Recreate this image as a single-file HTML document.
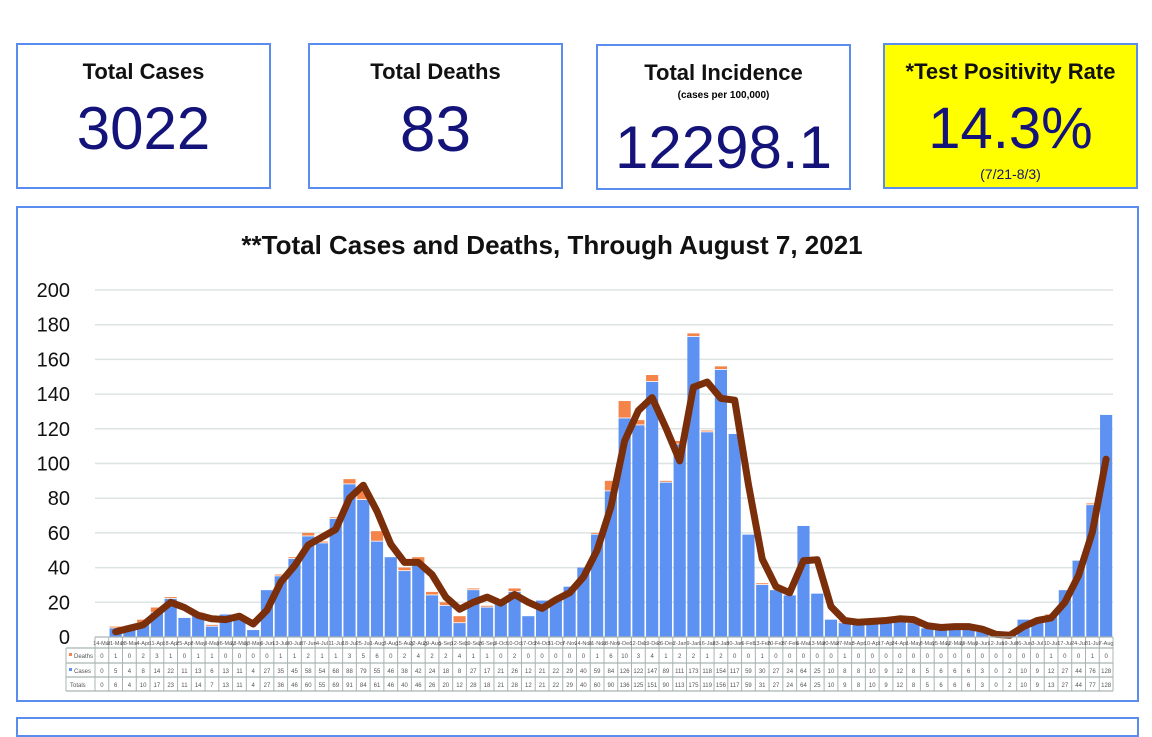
<!DOCTYPE html>
<html><head><meta charset="utf-8"><style>
body{margin:0;width:1152px;height:720px;background:#fff;position:relative;overflow:hidden;font-family:"Liberation Sans",sans-serif}
.box{position:absolute;border:2px solid #5b8def;box-sizing:border-box;text-align:center}
.t{position:absolute;left:0;right:0;font-weight:bold;font-size:22px;color:#111}
.n{position:absolute;left:0;right:0;font-size:64px;color:#13137a;line-height:1}
</style></head><body>
<div class="box" style="left:16px;top:43px;width:255px;height:146px"><div class="t" style="top:14px">Total Cases</div><div class="n" style="top:54px;font-size:60px">3022</div></div>
<div class="box" style="left:308px;top:43px;width:255px;height:146px"><div class="t" style="top:14px">Total Deaths</div><div class="n" style="top:52px">83</div></div>
<div class="box" style="left:596px;top:44px;width:255px;height:146px"><div class="t" style="top:14px">Total Incidence</div><div style="position:absolute;left:0;right:0;top:44px;font-size:10px;font-weight:bold">(cases per 100,000)</div><div class="n" style="top:72px;font-size:60px">12298.1</div></div>
<div class="box" style="left:883px;top:43px;width:255px;height:146px;background:#ffff00"><div class="t" style="top:14px">*Test Positivity Rate</div><div class="n" style="top:55px;font-size:58px">14.3%</div><div style="position:absolute;left:0;right:0;top:121px;font-size:14px;color:#13137a">(7/21-8/3)</div></div>
<div class="box" style="left:16px;top:206px;width:1123px;height:496px"></div>
<div class="box" style="left:16px;top:717px;width:1123px;height:20px"></div>
<svg id="s" width="1152" height="720" style="position:absolute;left:0;top:0"></svg>
<script>
var cases=[0,5,4,8,14,22,11,13,6,13,11,4,27,35,45,58,54,68,88,79,55,46,38,42,24,18,8,27,17,21,26,12,21,22,29,40,59,84,126,122,147,89,111,173,118,154,117,59,30,27,24,64,25,10,8,8,10,9,12,8,5,6,6,6,3,0,2,10,9,12,27,44,76,128];
var tot=[0,6,4,10,17,23,11,14,7,13,11,4,27,36,46,60,55,69,91,84,61,46,40,46,26,20,12,28,18,21,28,12,21,22,29,40,60,90,136,125,151,90,113,175,119,156,117,59,31,27,24,64,25,10,9,8,10,9,12,8,5,6,6,6,3,0,2,10,9,13,27,44,77,128];
var N=74,x0=95,cw=(1113-95)/N,y0=637,k=(637-290)/200;
var F='font-family=\'"Liberation Sans",sans-serif\'';
var h='<text x="552" y="254" font-size="26" font-weight="bold" '+F+' fill="#111" text-anchor="middle">**Total Cases and Deaths, Through August 7, 2021</text>';
for(var v=0;v<=200;v+=20){var y=y0-v*k;if(v>0)h+='<line x1="95" x2="1113" y1="'+y+'" y2="'+y+'" stroke="#dde3e3" stroke-width="1.5"/>';h+='<text x="70" y="'+(y+7)+'" font-size="20" text-anchor="end" '+F+' fill="#111">'+v+'</text>';}
var d0=new Date(2020,2,14),mo=['Jan','Feb','Mar','Apr','May','Jun','Jul','Aug','Sep','Oct','Nov','Dec'];
var pts=[];
for(var i=0;i<N;i++){var x=x0+i*cw;var c=cases[i],t=tot[i];
 h+='<rect x="'+(x+0.8)+'" y="'+(y0-c*k)+'" width="'+(cw-1.6)+'" height="'+(c*k)+'" fill="#5e92f2"/>';
 if(t>c)h+='<rect x="'+(x+0.8)+'" y="'+(y0-t*k)+'" width="'+(cw-1.6)+'" height="'+((t-c)*k-0.8)+'" fill="#f4844a"/>';
 if(i>0)pts.push((x+cw/2).toFixed(1)+','+(y0-(tot[i]+tot[i-1])/2*k).toFixed(1));
}
h+='<polyline points="'+pts.join(' ')+'" fill="none" stroke="#7a2e0a" stroke-width="7" stroke-linejoin="round" stroke-linecap="round"/>';
var rows=[637,648,663,677,691];
h+='<rect x="66" y="648" width="1047" height="43" fill="#fff"/>';
for(var r=0;r<5;r++){h+='<line x1="'+(r==0?95:66)+'" x2="1113" y1="'+rows[r]+'" y2="'+rows[r]+'" stroke="#a9b3b3" stroke-width="1.2"/>';}
h+='<line x1="66" x2="66" y1="648" y2="691" stroke="#a9b3b3"/>';
for(var i=0;i<=N;i++){var x=x0+i*cw;h+='<line x1="'+x+'" x2="'+x+'" y1="637" y2="691" stroke="#a9b3b3" stroke-width="1"/>';}
var lab=['Deaths','Cases','Totals'];
var lc=['#f4844a','#5b8ff0',null];
for(var r=0;r<3;r++){var y=rows[r+1]+10;if(lc[r])h+='<rect x="69" y="'+(y-5)+'" width="3" height="3" fill="'+lc[r]+'"/>';h+='<text x="'+(r<2?74:70)+'" y="'+y+'" font-size="6" fill="#555" '+F+'>'+lab[r]+'</text>';}
for(var i=0;i<N;i++){var x=x0+i*cw+cw/2;var d=new Date(d0.getTime()+i*7*864e5);
 h+='<text x="'+x+'" y="645" font-size="5.5" text-anchor="middle" fill="#555" '+F+'>'+d.getDate()+'-'+mo[d.getMonth()]+'</text>';
 var vals=[tot[i]-cases[i],cases[i],tot[i]];
 for(var r=0;r<3;r++)h+='<text x="'+x+'" y="'+(rows[r+1]+10)+'" font-size="6" text-anchor="middle" fill="#555" '+F+'>'+vals[r]+'</text>';}
document.getElementById('s').innerHTML=h;
</script>
</body></html>
